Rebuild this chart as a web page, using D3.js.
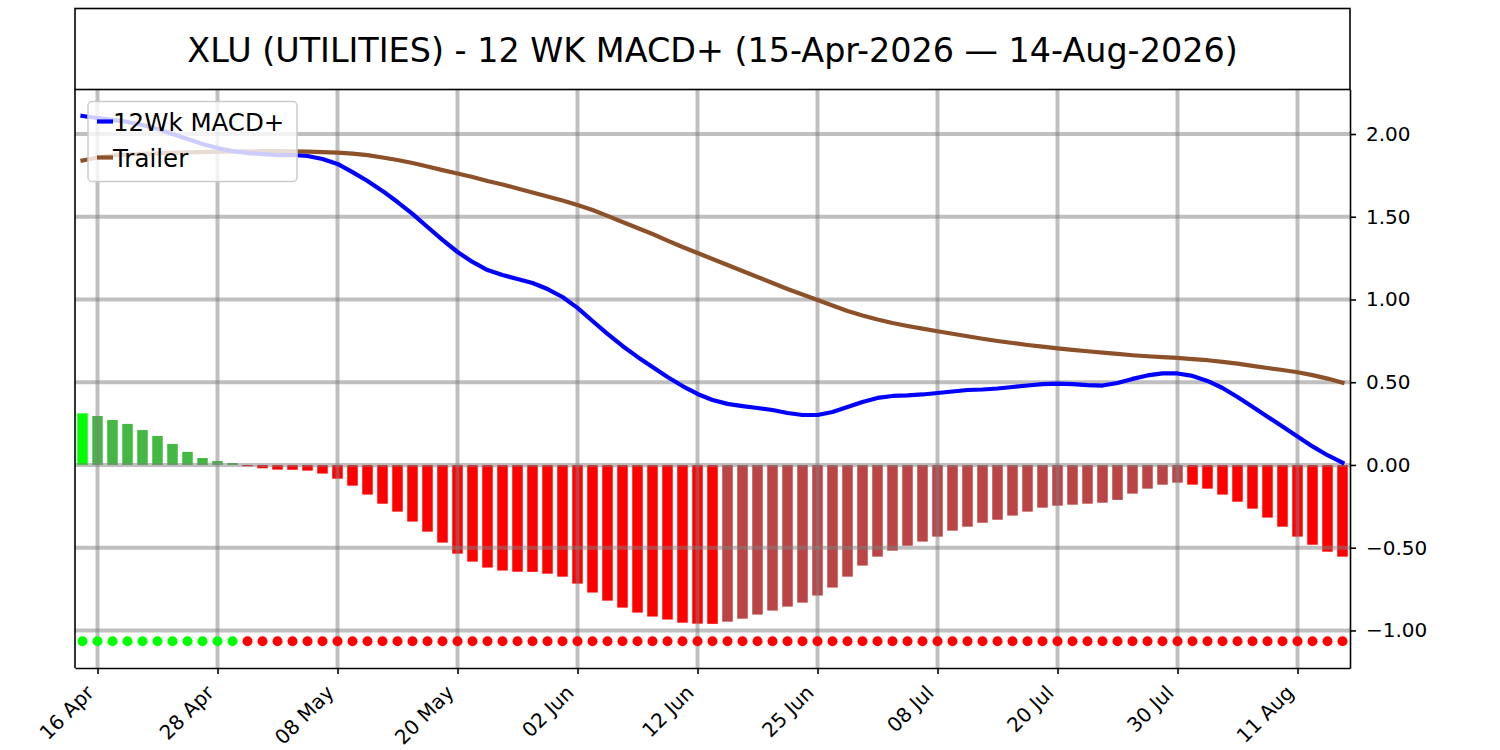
<!DOCTYPE html>
<html>
<head>
<meta charset="utf-8">
<script src="https://cdn.jsdelivr.net/npm/d3@7"></script>
<style>
  body { margin: 0; background: #fff; }
  #macd-chart svg { display: block; font-family: "DejaVu Sans", sans-serif; }
</style>
</head>
<body>
<div id="macd-chart"></div>
<script>
// values, one per trading day 15-Apr-2026 .. 14-Aug-2026
const macdVals = [
  2.109, 2.097, 2.085, 2.073, 2.054, 2.030, 2.000, 1.970, 1.940, 1.915,
  1.897, 1.885, 1.879, 1.873, 1.873, 1.867, 1.849, 1.819, 1.770, 1.716,
  1.656, 1.589, 1.517, 1.438, 1.360, 1.287, 1.227, 1.178, 1.148, 1.124,
  1.100, 1.063, 1.015, 0.949, 0.870, 0.792, 0.719, 0.653, 0.592, 0.532,
  0.477, 0.429, 0.393, 0.369, 0.356, 0.344, 0.332, 0.314, 0.302, 0.302,
  0.320, 0.350, 0.381, 0.405, 0.417, 0.420, 0.426, 0.435, 0.444, 0.453,
  0.456, 0.462, 0.471, 0.480, 0.489, 0.492, 0.489, 0.483, 0.480, 0.495,
  0.520, 0.541, 0.553, 0.553, 0.538, 0.508, 0.465, 0.411, 0.352, 0.292,
  0.232, 0.172, 0.112, 0.059, 0.014
];

const trailerVals = [
  1.840, 1.858, 1.870, 1.876, 1.880, 1.883, 1.886, 1.889, 1.891, 1.893,
  1.894, 1.895, 1.896, 1.896, 1.895, 1.894, 1.891, 1.888, 1.882, 1.872,
  1.858, 1.843, 1.825, 1.804, 1.782, 1.761, 1.740, 1.716, 1.695, 1.671,
  1.647, 1.622, 1.598, 1.571, 1.541, 1.505, 1.468, 1.432, 1.396, 1.356,
  1.317, 1.281, 1.245, 1.208, 1.172, 1.136, 1.100, 1.063, 1.030, 0.997,
  0.964, 0.931, 0.903, 0.879, 0.858, 0.840, 0.824, 0.808, 0.793, 0.778,
  0.763, 0.749, 0.737, 0.725, 0.715, 0.705, 0.696, 0.687, 0.679, 0.671,
  0.663, 0.657, 0.652, 0.647, 0.640, 0.633, 0.623, 0.612, 0.599, 0.586,
  0.574, 0.560, 0.543, 0.522, 0.497
];

const histVals = [
  0.312, 0.296, 0.272, 0.248, 0.211, 0.175, 0.127, 0.079, 0.042, 0.024,
  0.012, -0.008, -0.020, -0.028, -0.029, -0.034, -0.052, -0.083, -0.125, -0.179,
  -0.234, -0.282, -0.342, -0.403, -0.469, -0.536, -0.584, -0.620, -0.638, -0.645,
  -0.646, -0.657, -0.675, -0.717, -0.771, -0.820, -0.862, -0.892, -0.916, -0.934,
  -0.953, -0.959, -0.960, -0.947, -0.929, -0.904, -0.880, -0.856, -0.832, -0.789,
  -0.741, -0.675, -0.608, -0.554, -0.518, -0.488, -0.463, -0.433, -0.397, -0.373,
  -0.349, -0.331, -0.306, -0.282, -0.258, -0.246, -0.240, -0.234, -0.228, -0.211,
  -0.173, -0.143, -0.119, -0.107, -0.119, -0.143, -0.179, -0.222, -0.264, -0.318,
  -0.373, -0.433, -0.482, -0.524, -0.554
];

// level of the row of signal dots
const signalLevel = -1.065;

const tickIdx = [1, 9, 17, 25, 33, 41, 49, 57, 65, 73, 81];
const tickLabels = ["16 Apr", "28 Apr", "08 May", "20 May", "02 Jun", "12 Jun",
                    "25 Jun", "08 Jul", "20 Jul", "30 Jul", "11 Aug"];
const yTicks = [-1, -0.5, 0, 0.5, 1, 1.5, 2];
const seriesNames = ["12Wk MACD+", "Trailer"];
const chartTitle = "XLU (UTILITIES) - 12 WK MACD+ (15-Apr-2026 \u2014 14-Aug-2026)";

class macdViz {
  constructor(parentElement) {
    this.parentElement = parentElement;
    this.initVis();
  }

  initVis() {
    let vis = this;

    vis.margin = { top: 89.5, right: 150, bottom: 82, left: 75 };
    vis.width = 1500 - vis.margin.left - vis.margin.right;
    vis.height = 750 - vis.margin.top - vis.margin.bottom;

    vis.svg = d3
      .select("#" + vis.parentElement)
      .append("svg")
      .attr("width", 1500)
      .attr("height", 750);

    vis.g = vis.svg
      .append("g")
      .attr("transform", "translate(" + vis.margin.left + "," + vis.margin.top + ")");

    vis.x = d3.scaleLinear().domain([-0.5, macdVals.length - 0.5]).range([0, vis.width]);
    vis.y = d3.scaleLinear().domain([-1.227, 2.269]).range([vis.height, 0]);

    vis.colors = {
      macd: "#0000ff",
      trailer: "#8c5128",
      upUp: "#00ff00",
      upDown: "#43b943",
      downDown: "#ff0000",
      downUp: "#bb4444",
    };

    vis.wrangleData();
  }

  wrangleData() {
    let vis = this;

    vis.rows = histVals.map((h, i) => {
      let prev = i > 0 ? histVals[i - 1] : -Infinity;
      let col;
      if (h >= 0) col = h > prev ? vis.colors.upUp : vis.colors.upDown;
      else col = h > prev ? vis.colors.downUp : vis.colors.downDown;
      return {
        i: i,
        hist: h,
        macd: macdVals[i],
        trailer: trailerVals[i],
        barColor: col,
        dotColor: h > 0 ? vis.colors.upUp : vis.colors.downDown,
      };
    });

    vis.updateVis();
  }

  updateVis() {
    let vis = this;
    let barW = vis.x(0.35) - vis.x(-0.35);

    // histogram
    vis.g
      .selectAll(".hist")
      .data(vis.rows)
      .enter()
      .append("rect")
      .attr("class", "hist")
      .attr("x", (d) => vis.x(d.i) - barW / 2)
      .attr("width", barW)
      .attr("y", (d) => vis.y(Math.max(0, d.hist)))
      .attr("height", (d) => Math.abs(vis.y(d.hist) - vis.y(0)))
      .attr("fill", (d) => d.barColor);

    // grid over the bars
    vis.g
      .selectAll(".vgrid")
      .data(tickIdx)
      .enter()
      .append("line")
      .attr("x1", (d) => vis.x(d))
      .attr("x2", (d) => vis.x(d))
      .attr("y1", 0)
      .attr("y2", vis.height)
      .style("stroke", "#808080")
      .style("stroke-opacity", 0.5)
      .style("stroke-width", 4);

    vis.g
      .selectAll(".hgrid")
      .data(yTicks)
      .enter()
      .append("line")
      .attr("x1", 0)
      .attr("x2", vis.width)
      .attr("y1", (d) => vis.y(d))
      .attr("y2", (d) => vis.y(d))
      .style("stroke", "#808080")
      .style("stroke-opacity", 0.5)
      .style("stroke-width", 4);

    // signal dots
    vis.g
      .selectAll(".dot")
      .data(vis.rows)
      .enter()
      .append("circle")
      .attr("cx", (d) => vis.x(d.i))
      .attr("cy", vis.y(signalLevel))
      .attr("r", 5)
      .attr("fill", (d) => d.dotColor);

    // lines
    let macdLine = d3.line().x((d) => vis.x(d.i)).y((d) => vis.y(d.macd));
    let trailerLine = d3.line().x((d) => vis.x(d.i)).y((d) => vis.y(d.trailer));

    vis.g
      .append("path")
      .datum(vis.rows)
      .attr("d", trailerLine)
      .style("fill", "none")
      .style("stroke", vis.colors.trailer)
      .style("stroke-width", 4.2)
      .style("stroke-linecap", "square")
      .style("stroke-linejoin", "round");

    vis.g
      .append("path")
      .datum(vis.rows)
      .attr("d", macdLine)
      .style("fill", "none")
      .style("stroke", vis.colors.macd)
      .style("stroke-width", 4.2)
      .style("stroke-linecap", "square")
      .style("stroke-linejoin", "round");

    // axes
    let yAxis = d3
      .axisRight(vis.y)
      .tickValues(yTicks)
      .tickFormat(d3.format(".2f"))
      .tickSize(6)
      .tickSizeOuter(0)
      .tickPadding(10);

    let yG = vis.g
      .append("g")
      .attr("transform", "translate(" + vis.width + ",0)")
      .call(yAxis);
    yG.selectAll("text").style("font-size", "20px").style("fill", "#000").style("font-family", "DejaVu Sans");

    let xAxis = d3
      .axisBottom(vis.x)
      .tickValues(tickIdx)
      .tickFormat((d, i) => tickLabels[i])
      .tickSize(6)
      .tickSizeOuter(0);

    let xG = vis.g
      .append("g")
      .attr("transform", "translate(0," + vis.height + ")")
      .call(xAxis);
    xG.selectAll("text")
      .attr("y", 0)
      .attr("dy", null)
      .attr("transform", "translate(-3,26) rotate(-45)")
      .style("text-anchor", "end")
      .style("font-size", "20px")
      .style("fill", "#000")
      .style("font-family", "DejaVu Sans");

    [xG, yG].forEach((a) => {
      a.selectAll(".domain").style("stroke", "#000").style("stroke-width", 1.6);
      a.selectAll(".tick line").style("stroke", "#000").style("stroke-width", 1.6);
    });

    vis.g
      .append("line")
      .attr("x1", 0)
      .attr("x2", 0)
      .attr("y1", 0)
      .attr("y2", vis.height)
      .style("stroke", "#000")
      .style("stroke-width", 1.6);

    // title box
    vis.svg
      .append("rect")
      .attr("x", vis.margin.left)
      .attr("y", 8.5)
      .attr("width", vis.width)
      .attr("height", vis.margin.top - 8.5)
      .style("fill", "none")
      .style("stroke", "#000")
      .style("stroke-width", 1.6);

    vis.svg
      .append("text")
      .attr("x", vis.margin.left + vis.width / 2)
      .attr("y", 62)
      .attr("text-anchor", "middle")
      .style("font-size", "33.4px")
      .style("fill", "#000")
      .text(chartTitle);

    // legend
    let leg = vis.g.append("g").attr("transform", "translate(13,12)");
    leg
      .append("rect")
      .attr("width", 209)
      .attr("height", 80)
      .attr("rx", 4)
      .style("fill", "#fff")
      .style("fill-opacity", 0.8)
      .style("stroke", "#cccccc")
      .style("stroke-width", 1.5);

    let legColors = [vis.colors.macd, vis.colors.trailer];
    seriesNames.forEach((name, k) => {
      let ly = 20 + k * 36;
      leg
        .append("line")
        .attr("x1", 9)
        .attr("x2", 25)
        .attr("y1", ly)
        .attr("y2", ly)
        .style("stroke", legColors[k])
        .style("stroke-width", 4.2);
      leg
        .append("text")
        .attr("x", 25)
        .attr("y", ly + 9.5)
        .style("font-size", "24.5px")
        .style("fill", "#000")
        .text(name);
    });
  }
}

new macdViz("macd-chart");
</script>
</body>
</html>
